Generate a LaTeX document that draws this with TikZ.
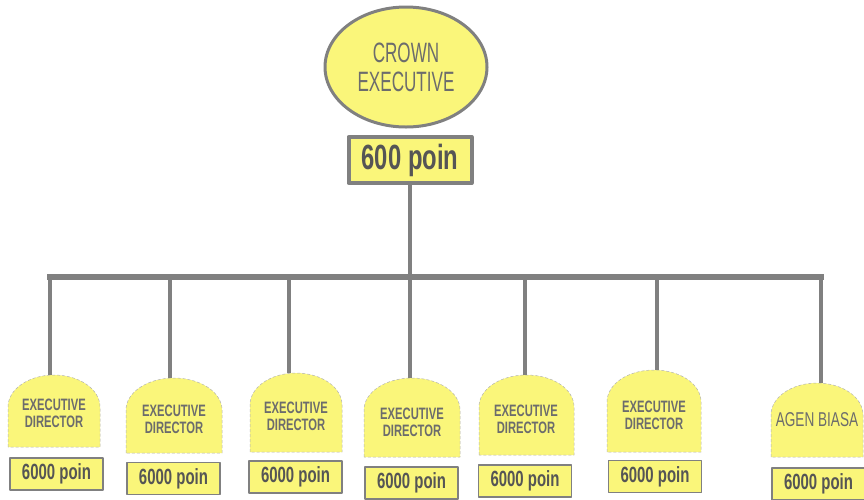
\documentclass[tikz,border=0pt]{standalone}
\usepackage{fontspec}
\newfontfamily\narrowsf[FakeStretch=0.68]{Liberation Sans}
\newfontfamily\crownsf[FakeStretch=0.61]{Liberation Sans}
\usetikzlibrary{shapes.geometric}
\definecolor{loaf}{RGB}{250,246,122}
\definecolor{frame}{RGB}{128,128,128}
\definecolor{inkgray}{RGB}{108,108,108}
\definecolor{darkink}{RGB}{85,85,85}
\tikzset{
  crown/.style={ellipse, draw=frame, line width=3pt, fill=loaf, minimum width=162pt, minimum height=120pt, inner sep=0pt, align=center, text=inkgray, font=\crownsf\fontsize{28}{29}\selectfont},
  toppoints/.style={draw=frame, line width=4pt, fill=loaf, minimum width=123pt, minimum height=46pt, inner sep=0pt, text=darkink, font=\narrowsf\bfseries\fontsize{35}{36}\selectfont},
  points/.style={draw=frame, line width=1.3pt, fill=loaf, minimum width=93pt, minimum height=32pt, inner sep=0pt, text=darkink, font=\narrowsf\bfseries\fontsize{22}{24}\selectfont},
  dome/.style={fill=loaf, draw=frame!60, line width=0.5pt, densely dashed},
  domelabel/.style={align=center, inner sep=0pt, text=inkgray, font=\narrowsf\bfseries\fontsize{16.5}{17}\selectfont},
  agentlabel/.style={align=center, inner sep=0pt, text=inkgray, font=\narrowsf\fontsize{20}{21}\selectfont},
  link/.style={draw=frame, line width=3.5pt},
  bar/.style={draw=frame, line width=5.5pt, line cap=rect}
}
\begin{document}
\begin{tikzpicture}[x=1pt,y=-1pt,line join=round]
\useasboundingbox (0,0) rectangle (864,499);
% top of the plan
\node[crown] (crown) at (406,67) {CROWN\\EXECUTIVE};
\node[toppoints] (top) at (410,160) {600 poin};
\coordinate (b1) at (50,277);
\coordinate (b2) at (170,277);
\coordinate (b3) at (289,277);
\coordinate (b4) at (410,277);
\coordinate (b5) at (525,277);
\coordinate (b6) at (657,277);
\coordinate (b7) at (821,277);
\draw[link] (top) -- (b4);
\draw[bar] (b1) -- (b7);
% the seven members
\draw[dome] (8,447) -- (8,407) .. controls (8,389) and (29,375) .. (54,375) coordinate (t1) .. controls (79,375) and (100,389) .. (100,407) -- (100,447) -- cycle;
\draw[dome] (126,453) -- (126,410) .. controls (126,392) and (148,378) .. (174,378) coordinate (t2) .. controls (200,378) and (222,392) .. (222,410) -- (222,453) -- cycle;
\draw[dome] (250,452) -- (250,405) .. controls (250,387) and (271,373) .. (296,373) coordinate (t3) .. controls (321,373) and (342,387) .. (342,405) -- (342,452) -- cycle;
\draw[dome] (364,457) -- (364,410) .. controls (364,392) and (386,378) .. (412,378) coordinate (t4) .. controls (438,378) and (460,392) .. (460,410) -- (460,457) -- cycle;
\draw[dome] (479,455) -- (479,407) .. controls (479,389) and (500,375) .. (526.5,375) coordinate (t5) .. controls (553,375) and (574,389) .. (574,407) -- (574,455) -- cycle;
\draw[dome] (607,452) -- (607,402) .. controls (607,384) and (628,370) .. (654,370) coordinate (t6) .. controls (680,370) and (701,384) .. (701,402) -- (701,452) -- cycle;
\draw[dome] (771,457) -- (771,415) .. controls (771,397) and (792,383) .. (817,383) coordinate (t7) .. controls (842,383) and (863,397) .. (863,415) -- (863,457) -- cycle;
\node[domelabel] (d1) at (54,413) {EXECUTIVE\\DIRECTOR};
\node[domelabel] (d2) at (174,419) {EXECUTIVE\\DIRECTOR};
\node[domelabel] (d3) at (296,416) {EXECUTIVE\\DIRECTOR};
\node[domelabel] (d4) at (412,422) {EXECUTIVE\\DIRECTOR};
\node[domelabel] (d5) at (526,419) {EXECUTIVE\\DIRECTOR};
\node[domelabel] (d6) at (654,415) {EXECUTIVE\\DIRECTOR};
\node[agentlabel] (d7) at (817,420) {AGEN BIASA};
\draw[link] (b1) -- (b1 |- t1);
\draw[link] (b2) -- (b2 |- t2);
\draw[link] (b3) -- (b3 |- t3);
\draw[link] (b4) -- (b4 |- t4);
\draw[link] (b5) -- (b5 |- t5);
\draw[link] (b6) -- (b6 |- t6);
\draw[link] (b7) -- (b7 |- t7);
\node[points] (p1) at (56.5,474) {6000 poin};
\node[points] (p2) at (173.5,478.5) {6000 poin};
\node[points] (p3) at (295.5,477) {6000 poin};
\node[points] (p4) at (411.5,483) {6000 poin};
\node[points] (p5) at (525,481) {6000 poin};
\node[points] (p6) at (655,476.5) {6000 poin};
\node[points] (p7) at (818.5,484) {6000 poin};
\end{tikzpicture}
\end{document}
